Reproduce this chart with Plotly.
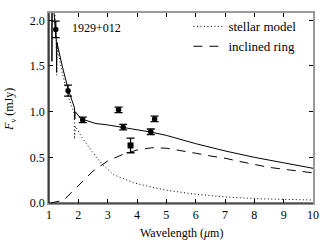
import plotly.graph_objects as go

# Observed photometry (circles)
obs_x = [1.23, 1.65, 2.15, 3.37, 3.53, 4.47, 4.60]
obs_y = [1.90, 1.23, 0.91, 1.02, 0.83, 0.78, 0.92]
obs_err = [0.09, 0.06, 0.03, 0.03, 0.03, 0.03, 0.03]

# Square point
sq_x = [3.78]
sq_y = [0.63]
sq_err = [0.08]

# Total model (solid)
tot_x = [1.10, 1.10, 1.11, 1.20, 1.25, 1.26, 1.27, 1.45, 1.65, 1.87, 1.88, 1.89, 2.10, 2.60, 3.00, 3.50,
         4.00, 4.50, 5.00, 6.00, 7.00, 8.00, 9.00, 10.00]
tot_y = [2.40, 1.55, 2.40, 1.95, 1.78, 1.43, 1.76, 1.50, 1.25, 1.04, 0.92, 1.00, 0.92, 0.87, 0.855, 0.83,
         0.805, 0.775, 0.74, 0.65, 0.57, 0.50, 0.44, 0.38]

# Stellar model (dotted)
star_x = [1.16, 1.22, 1.25, 1.26, 1.27, 1.45, 1.65, 1.86, 1.87, 1.90, 2.10, 2.45, 2.80, 3.20, 3.90, 4.55,
          5.00, 5.90, 7.00, 8.20, 9.00, 10.00]
star_y = [2.40, 1.85, 1.74, 1.40, 1.72, 1.43, 1.17, 0.98, 0.70, 0.84, 0.73, 0.57, 0.43, 0.31, 0.22, 0.17,
          0.14, 0.10, 0.066, 0.046, 0.040, 0.033]

# Inclined ring (dashed)
ring_x = [1.05, 1.50, 2.00, 2.50, 3.00, 3.50, 4.00, 4.50, 5.00, 5.50, 6.00, 6.50, 7.00, 7.50, 8.00,
          8.50, 9.00, 9.50, 10.00]
ring_y = [0.00, 0.03, 0.19, 0.35, 0.46, 0.53, 0.58, 0.605, 0.60, 0.575, 0.545, 0.515, 0.49, 0.455, 0.42,
          0.39, 0.37, 0.35, 0.33]

x_ticks = [1, 2, 3, 4, 5, 6, 7, 8, 9, 10]
y_ticks = [0.0, 0.5, 1.0, 1.5, 2.0]
y_tick_text = ["0.0", "0.5", "1.0", "1.5", "2.0"]

FONT = "Liberation Serif"

fig = go.Figure()
fig.add_trace(go.Scatter(x=star_x, y=star_y, mode="lines", name="stellar model",
                         line=dict(color="black", width=1, dash="1px,2.5px")))
fig.add_trace(go.Scatter(x=ring_x, y=ring_y, mode="lines", name="inclined ring",
                         line=dict(color="black", width=1, dash="9px,7px")))
fig.add_trace(go.Scatter(x=tot_x, y=tot_y, mode="lines", showlegend=False,
                         line=dict(color="black", width=1)))
fig.add_trace(go.Scatter(x=obs_x, y=obs_y, mode="markers", showlegend=False,
                         marker=dict(color="black", size=5.5, symbol="circle"),
                         error_y=dict(type="data", array=obs_err, color="black", thickness=1.3, width=4)))
fig.add_trace(go.Scatter(x=sq_x, y=sq_y, mode="markers", showlegend=False,
                         marker=dict(color="black", size=6, symbol="square"),
                         error_y=dict(type="data", array=sq_err, color="black", thickness=1.3, width=4)))

fig.add_annotation(x=2.63, y=1.92, xref="x", yref="y", text="1929+012", showarrow=False,
                   font=dict(family=FONT, size=12, color="black"))

# axis titles
fig.add_annotation(x=0.5, y=0, xref="paper", yref="paper", yanchor="middle", yshift=-30,
                   text="Wavelength (<i>μ</i>m)", showarrow=False,
                   font=dict(family=FONT, size=12, color="black"))
fig.add_annotation(x=0, y=0.49, xref="paper", yref="paper", xanchor="center", xshift=-39,
                   text="<i>F</i><sub>ν</sub> (mJy)", textangle=-90, showarrow=False,
                   font=dict(family=FONT, size=12, color="black"))

axis_common = dict(showline=True, linecolor="#999999", linewidth=1.5, mirror="ticks",
                   ticks="inside", ticklen=4, tickcolor="black", tickwidth=1,
                   showgrid=False, zeroline=False, automargin=False,
                   tickfont=dict(family=FONT, size=12, color="black"))

fig.update_xaxes(range=[1, 10], tickvals=x_ticks, ticktext=[str(v) for v in x_ticks], **axis_common)
fig.update_yaxes(range=[0, 2.08], tickvals=y_ticks, ticktext=y_tick_text, **axis_common)

# black left/bottom spines
fig.add_shape(type="line", xref="paper", yref="paper", x0=0, x1=0, y0=0, y1=1,
              line=dict(color="black", width=1.2), layer="above")
fig.add_shape(type="line", xref="paper", yref="paper", x0=0, x1=1, y0=0, y1=0,
              line=dict(color="black", width=1.2), layer="above")

fig.update_layout(
    width=330, height=250,
    margin=dict(l=49, r=17, t=12, b=47),
    plot_bgcolor="white", paper_bgcolor="white",
    font=dict(family=FONT, size=12, color="black"),
    legend=dict(x=0.528, y=1.003, xanchor="left", yanchor="top", bgcolor="rgba(0,0,0,0)",
                font=dict(family=FONT, size=13), itemwidth=30, tracegroupgap=0),
)

fig.write_html("out.html", config={"displayModeBar": False},
               post_script="document.body.style.margin='0';")
